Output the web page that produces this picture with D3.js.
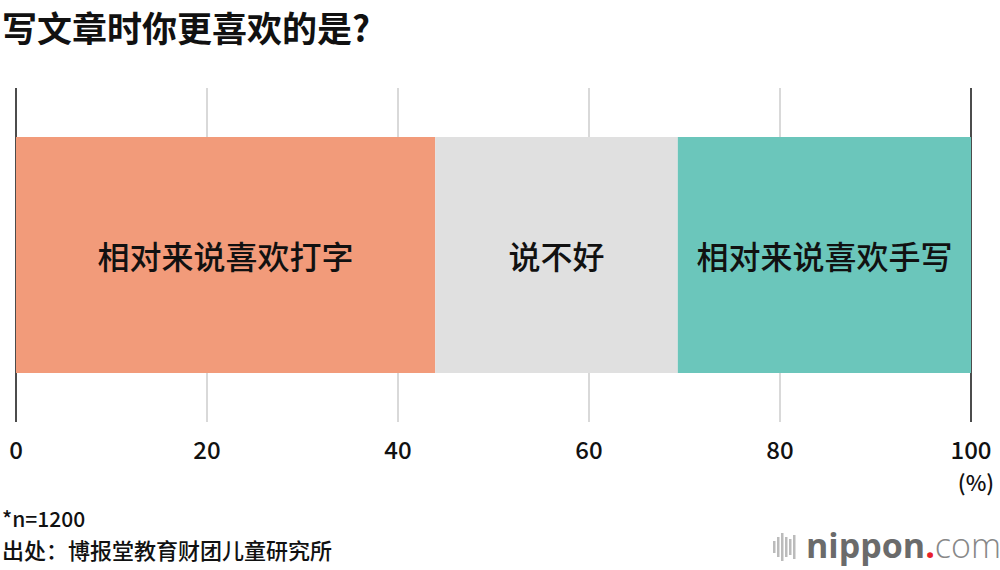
<!DOCTYPE html>
<html><head><meta charset="utf-8">
<script src="https://cdn.jsdelivr.net/npm/d3@7"></script>
<style>body{margin:0;background:#fff;font-family:"Noto Sans CJK SC","Noto Sans",sans-serif}</style>
</head><body><svg id="c" width="1000" height="570"></svg>
<script>
const categories=["相对来说喜欢打字","说不好","相对来说喜欢手写"];
const values=[43.9,25.4,30.7];
const colors=["#f29b7a","#e0e0e0","#6bc6bb"];
const ticks=[0,20,40,60,80,100];
const svg=d3.select("#c");
const F='"Noto Sans CJK SC","Noto Sans",sans-serif';
svg.append("text").attr("x",2).attr("y",42).attr("font-size",35).attr("font-weight",700).attr("font-family",F).attr("fill","#111").text("写文章时你更喜欢的是?");
const x=d3.scaleLinear().domain([0,100]).range([16,971]);
const g=svg.append("g");
ticks.forEach(t=>{g.append("line").attr("x1",x(t)).attr("x2",x(t)).attr("y1",88).attr("y2",422)
 .attr("stroke",(t==0||t==100)?"#111":"#ccc").attr("stroke-width",1.5);
 g.append("text").attr("x",x(t)).attr("y",459).attr("text-anchor","middle").attr("font-size",24).attr("font-weight",500).attr("font-family",F).attr("fill","#111").text(t);});
svg.append("text").attr("x",976).attr("y",491).attr("text-anchor","middle").attr("font-size",22).attr("font-weight",500).attr("font-family",F).attr("fill","#111").text("(%)");
let acc=0;
values.forEach((v,i)=>{const x0=x(acc),x1=x(acc+v);acc+=v;
 g.append("rect").attr("x",x0).attr("y",137).attr("width",x1-x0).attr("height",236).attr("fill",colors[i]);
 g.append("text").attr("x",(x0+x1)/2).attr("y",269).attr("text-anchor","middle").attr("font-size",32).attr("font-weight",500).attr("font-family",F).attr("fill","#111").text(categories[i]);});
svg.append("text").attr("x",2).attr("y",527).attr("font-size",21).attr("font-weight",500).attr("font-family",F).attr("fill","#111").text("*n=1200");
svg.append("text").attr("x",2).attr("y",559).attr("font-size",22).attr("font-weight",500).attr("font-family",F).attr("fill","#111").text("出处：博报堂教育财团儿童研究所");
const lg=svg.append("g").attr("transform","translate(773,547)");
[[0,6],[4,10],[8,14],[12,10],[16,8],[20,12]].forEach(([dx,h])=>lg.append("rect").attr("x",dx).attr("y",-h).attr("width",2.5).attr("height",2*h).attr("fill","#bbb"));
const lt=svg.append("text").attr("x",806).attr("y",558).attr("font-size",34).attr("font-family","'Open Sans',sans-serif");
lt.append("tspan").attr("font-weight",700).attr("fill","#6b6b6b").text("nippon");
lt.append("tspan").attr("fill","#e8202a").attr("font-weight",700).text(".");
lt.append("tspan").attr("fill","#888").attr("font-weight",300).text("com");
</script></body></html>
